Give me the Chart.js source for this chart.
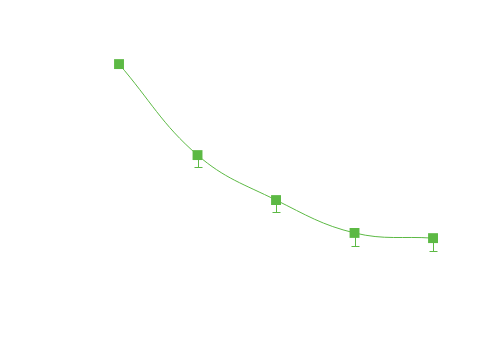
<!DOCTYPE html>
<html lang="en">
<head>
    <meta charset="UTF-8">
    <title>Decay curve</title>
    <style>
        body {
            margin: 0;
            background-color: white;
        }
        .wrap {
            width: 500px;
            height: 360px;
        }
    </style>
</head>
<body>
    <div class="wrap">
        <canvas id="chart" width="500" height="360"></canvas>
    </div>

    <script src="https://cdn.jsdelivr.net/npm/chart.js"></script>
    <script>
        // Chart data
        const steps = [1, 2, 3, 4, 5];
        const values = [83.5, 57.2, 44.2, 34.7, 33.2];
        const lowerErrors = [1.0, 3.5, 3.5, 3.8, 3.8];

        const green = '#5cb944';

        // Draws the lower error bars from the data, under the markers
        const errorBars = {
            id: 'errorBars',
            beforeDatasetsDraw(chart) {
                const ctx = chart.ctx;
                const x = chart.scales.x;
                const y = chart.scales.y;
                ctx.save();
                ctx.strokeStyle = green;
                ctx.lineWidth = 1;
                steps.forEach((s, i) => {
                    const px = Math.round(x.getPixelForValue(s)) + 0.5;
                    const top = y.getPixelForValue(values[i]);
                    const bottom = Math.round(y.getPixelForValue(values[i] - lowerErrors[i])) + 0.5;
                    ctx.beginPath();
                    ctx.moveTo(px, top);
                    ctx.lineTo(px, bottom);
                    ctx.moveTo(px - 4, bottom);
                    ctx.lineTo(px + 4, bottom);
                    ctx.stroke();
                });
                ctx.restore();
            }
        };

        new Chart(document.getElementById('chart').getContext('2d'), {
            type: 'line',
            data: {
                datasets: [{
                    data: steps.map((s, i) => ({ x: s, y: values[i] })),
                    borderColor: green,
                    borderWidth: 1,
                    backgroundColor: green,
                    pointStyle: 'rect',
                    pointRadius: 7,
                    pointBorderWidth: 0,
                    tension: 0.4,
                    fill: false
                }]
            },
            options: {
                responsive: false,
                animation: false,
                layout: { padding: 0 },
                plugins: {
                    legend: { display: false },
                    tooltip: { enabled: false }
                },
                scales: {
                    x: {
                        type: 'linear',
                        display: false,
                        min: -0.427,
                        max: 5.764
                    },
                    y: {
                        display: false,
                        min: 0,
                        max: 100
                    }
                }
            },
            plugins: [errorBars]
        });
    </script>
</body>
</html>
